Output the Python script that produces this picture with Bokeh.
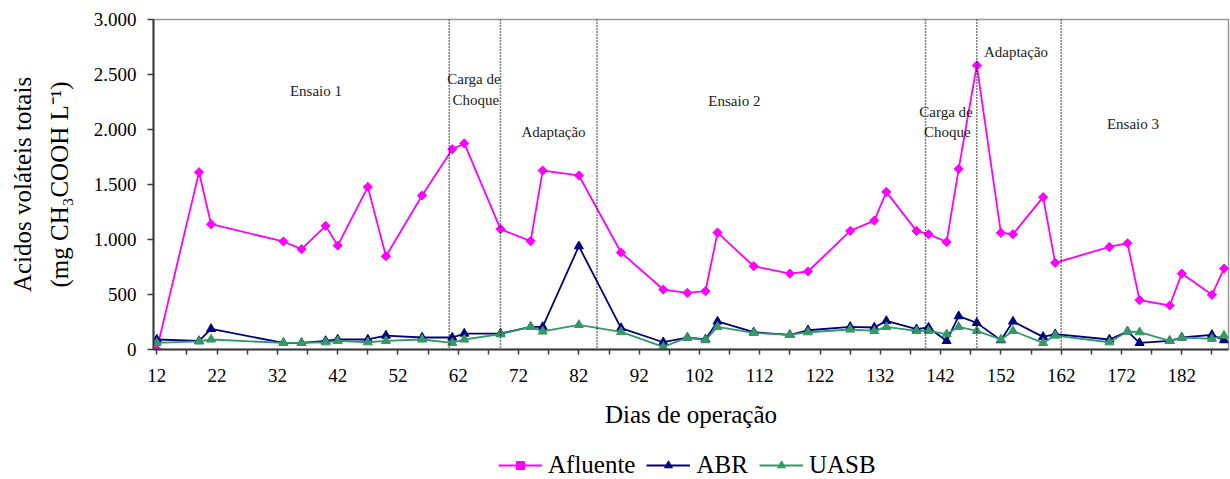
import math
from bokeh.plotting import figure
from bokeh.layouts import column
from bokeh.models import FixedTicker, Span, Label, Legend, LegendItem, Range1d, LinearAxis
from bokeh.embed import file_html
from bokeh.resources import INLINE

# ---------------- data ----------------
days = [12, 19, 21, 33, 36, 40, 42, 47, 50, 56,
        61, 63, 69, 74, 76, 82, 89, 96, 100, 103,
        105, 111, 117, 120, 127, 131, 133, 138, 140, 143,
        145, 148, 152, 154, 159, 161, 170, 173, 175, 180,
        182, 187, 189]

afluente = [0, 1612, 1139, 982, 912, 1124, 945, 1478, 848, 1400,
            1821, 1873, 1094, 985, 1627, 1582, 882, 545, 515, 530,
            1063, 757, 690, 709, 1078, 1172, 1433, 1078, 1048, 978,
            1642, 2582, 1060, 1048, 1385, 788, 933, 966, 448, 400,
            690, 497, 736]

abr = [91, 78, 187, 60, 60, 78, 91, 91, 127, 109,
       109, 145, 145, 206, 206, 939, 195, 66, 109, 91,
       255, 157, 133, 175, 206, 200, 260, 185, 200, 78,
       303, 242, 85, 255, 115, 139, 91, 164, 60, 78,
       109, 133, 85]

uasb = [60, 73, 91, 60, 60, 66, 78, 66, 78, 91,
        60, 91, 139, 206, 164, 224, 160, 24, 109, 85,
        206, 151, 133, 157, 182, 169, 206, 169, 169, 139,
        206, 169, 91, 169, 60, 127, 66, 164, 157, 78,
        109, 97, 127]

phase_bounds = [60.5, 69, 85, 139.5, 148, 162]

phase_labels = ["Ensaio 1", "Carga de", "Choque", "Adaptação", "Ensaio 2",
                "Carga de", "Choque", "Adaptação", "Ensaio 3"]
phase_label_x = [38.4, 64.6, 64.9, 77.8, 107.8, 142.9, 143.1, 154.5, 173.9]
phase_label_y = [2351, 2455, 2266, 1978, 2260, 2160, 1978, 2705, 2048]

y_ticks = [0, 500, 1000, 1500, 2000, 2500, 3000]
x_ticks = list(range(12, 183, 10))
x_minor = list(range(17, 188, 10))

series_names = ["Afluente", "ABR", "UASB"]
colors = ["#FF00FF", "#000080", "#339966"]
y_title = ["Acidos voláteis totais", "(mg CH₃COOH L⁻¹)"]
x_title = "Dias de operação"

FONT = "Liberation Serif"

# ---------------- main figure ----------------
p = figure(width=1230, height=440, output_backend="svg", toolbar_location=None,
           x_range=Range1d(11.45, 189.75), y_range=Range1d(0, 3000),
           min_border_left=153, min_border_right=2, min_border_top=19,
           min_border_bottom=91)
p.background_fill_color = "white"
p.border_fill_color = "white"
p.outline_line_color = "#999999"
p.outline_line_width = 1.5
p.xgrid.visible = False
p.ygrid.visible = False

# axes
p.yaxis.ticker = FixedTicker(ticks=y_ticks)
p.yaxis.major_label_overrides = {v: f"{v:,}".replace(",", ".") for v in y_ticks}
p.yaxis.major_tick_out = 6
p.yaxis.major_tick_in = 0
p.yaxis.major_label_standoff = 11
p.yaxis.axis_label = y_title[1]
p.yaxis.axis_label_standoff = 18

p.xaxis.ticker = FixedTicker(ticks=x_ticks, minor_ticks=x_minor)
p.xaxis.major_tick_out = 5
p.xaxis.major_tick_in = 0
p.xaxis.minor_tick_out = 5
p.xaxis.minor_tick_in = 0
p.xaxis.major_label_standoff = 14
p.xaxis.axis_label = x_title
p.xaxis.axis_label_standoff = 16

outer = LinearAxis(ticker=FixedTicker(ticks=[]), axis_label=y_title[0],
                   axis_line_color=None, major_tick_line_color=None,
                   minor_tick_line_color=None, major_tick_out=0, minor_tick_out=0,
                   major_label_standoff=0, axis_label_standoff=7)
p.add_layout(outer, "left")

for ax in (p.xaxis[0], p.yaxis[0]):
    ax.axis_line_color = "#3a3a3a"
    ax.axis_line_width = 2
    ax.major_tick_line_color = "#3a3a3a"
    ax.major_tick_line_width = 1.5
    ax.minor_tick_line_color = "#3a3a3a"
    ax.minor_tick_line_width = 1.5
    ax.major_label_text_font = FONT
    ax.major_label_text_font_size = "19px"
    ax.major_label_text_color = "black"
for ax in (p.xaxis[0], p.yaxis[0], outer):
    ax.axis_label_text_font = FONT
    ax.axis_label_text_font_size = "25px"
    ax.axis_label_text_font_style = "normal"
    ax.axis_label_text_color = "black"
p.yaxis[0].minor_tick_line_color = None

# phase separators
for b in phase_bounds:
    p.add_layout(Span(location=b, dimension="height", line_color="black",
                      line_width=1.5, line_dash="1 2"))

# series
p.line(days, afluente, line_color=colors[0], line_width=1.8)
p.scatter(days, afluente, marker="square", angle=math.pi / 4, size=6.5,
          fill_color=colors[0], line_color=colors[0])
p.line(days, abr, line_color=colors[1], line_width=1.8)
p.scatter(days, abr, marker="triangle", size=9,
          fill_color=colors[1], line_color=colors[1])
p.line(days, uasb, line_color=colors[2], line_width=1.8)
p.scatter(days, uasb, marker="triangle", size=9,
          fill_color=colors[2], line_color=colors[2])

# phase annotations
for t, x, y in zip(phase_labels, phase_label_x, phase_label_y):
    p.add_layout(Label(x=x, y=y, text=t, text_font=FONT, text_font_size="15px",
                       text_align="center", text_baseline="middle", text_color="#222222"))

# ---------------- legend strip ----------------
lg = figure(width=1230, height=39, output_backend="svg", toolbar_location=None,
            x_range=Range1d(0, 1), y_range=Range1d(0, 1),
            x_axis_type=None, y_axis_type=None,
            min_border_left=0, min_border_right=0, min_border_top=0, min_border_bottom=0)
lg.outline_line_color = None
lg.xgrid.visible = False
lg.ygrid.visible = False
markers = ["square", "triangle", "triangle"]
angles = [math.pi / 4, 0, 0]
sizes = [6.5, 9, 9]
items = []
for name, c, m, a, s in zip(series_names, colors, markers, angles, sizes):
    # proxy renderers placed outside the visible range, used only for legend glyphs
    rl = lg.line([-5, -4], [-5, -4], line_color=c, line_width=1.8)
    rm = lg.scatter([-5], [-5], marker=m, angle=a, size=s, fill_color=c, line_color=c)
    items.append(LegendItem(label=name, renderers=[rl, rm]))

legend = Legend(items=items, orientation="horizontal", location=(345, 0),
                label_text_font=FONT, label_text_font_size="25px",
                label_text_color="black", label_height=24,
                glyph_width=44, glyph_height=20, label_standoff=6, spacing=11,
                padding=0, margin=0, border_line_color=None,
                background_fill_alpha=0)
lg.add_layout(legend)

layout = column(p, lg, spacing=0)
open("out.html", "w").write(file_html(layout, INLINE))
